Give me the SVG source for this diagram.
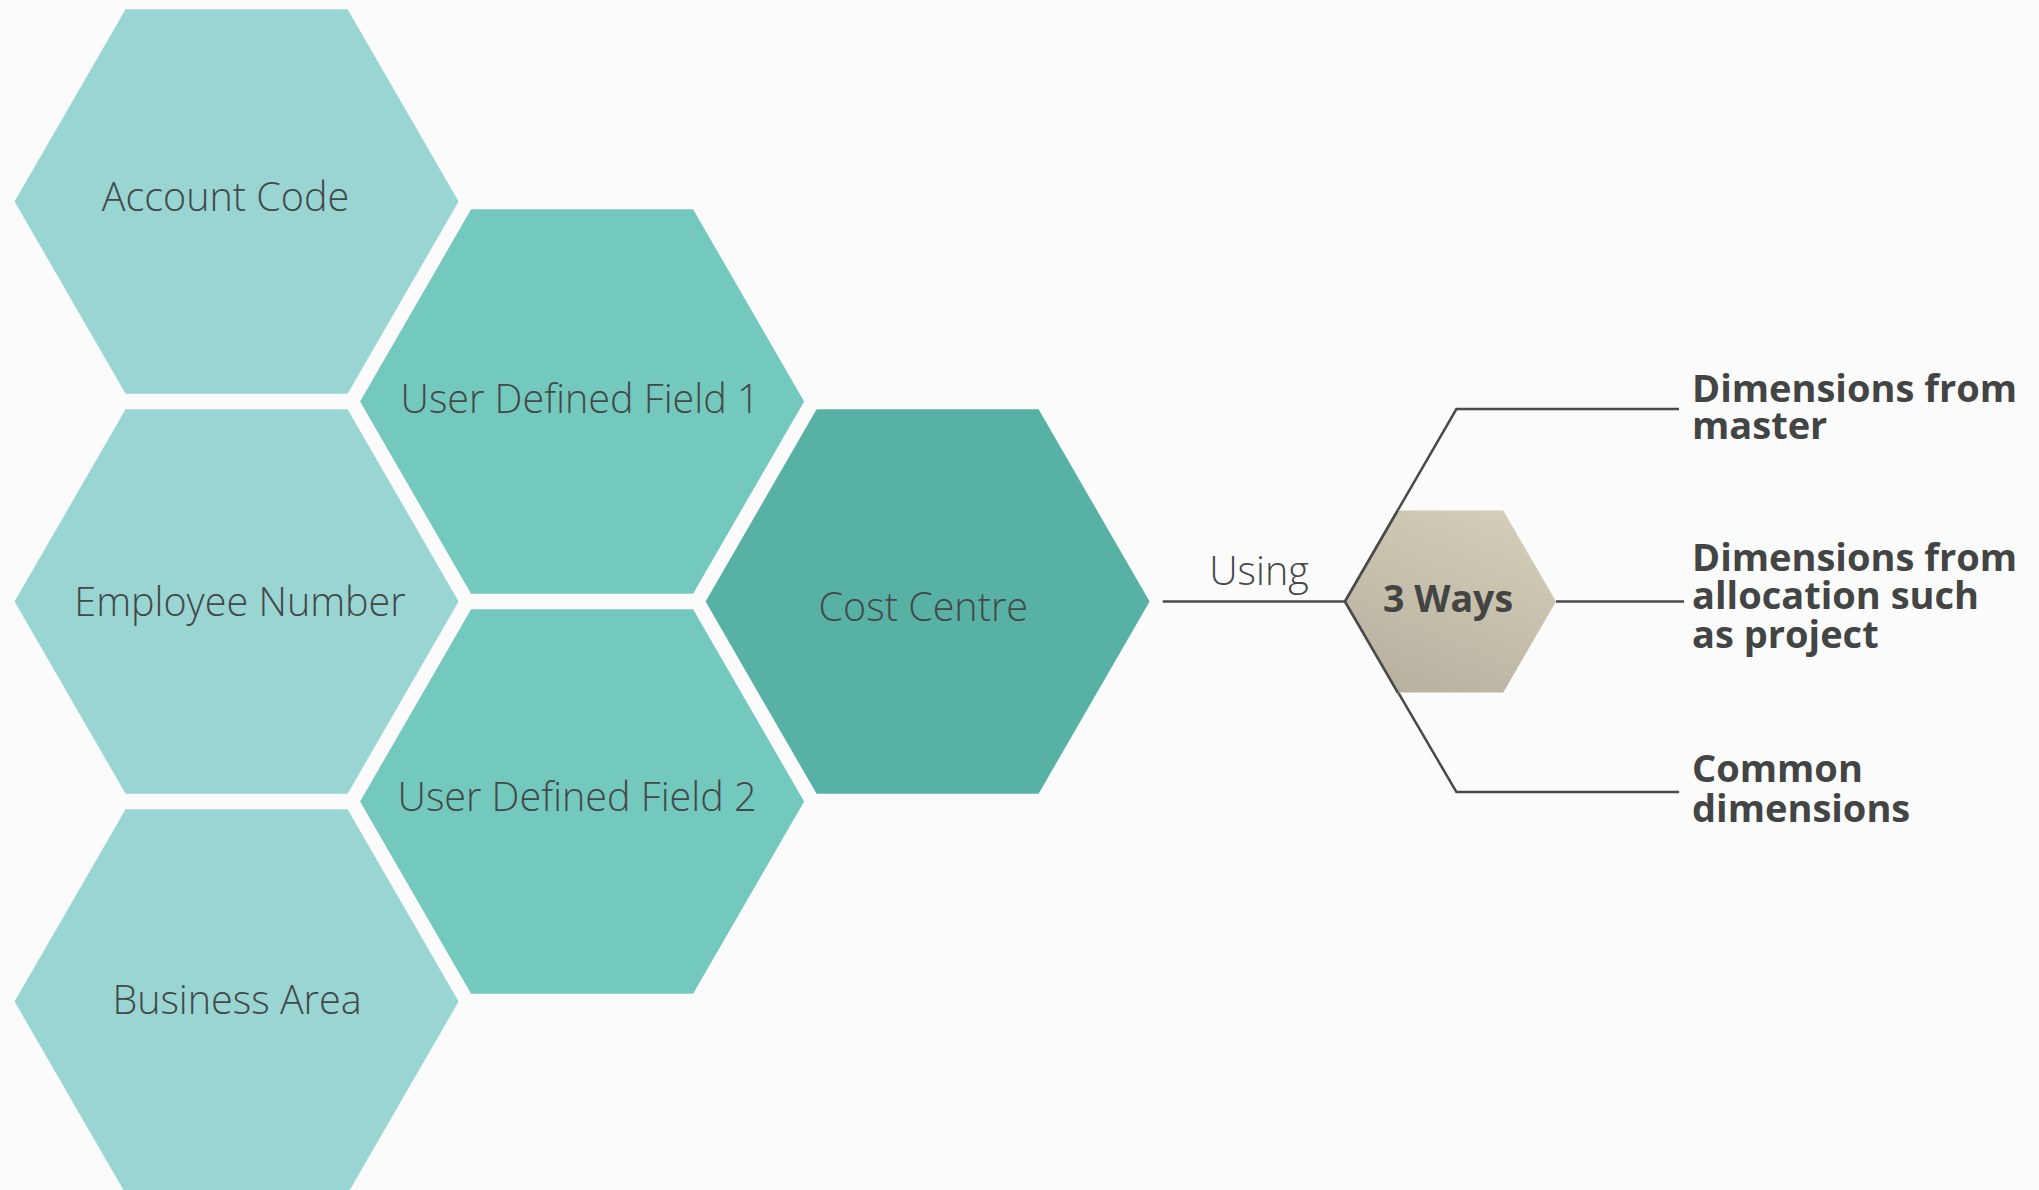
<svg xmlns="http://www.w3.org/2000/svg" width="2039" height="1190" viewBox="0 0 2039 1190">
  <defs>
    <linearGradient id="gWays" x1="0.75" y1="0" x2="0.25" y2="1">
      <stop offset="0" stop-color="#d4cdb7"/>
      <stop offset="1" stop-color="#b8b1a0"/>
    </linearGradient>
    <polygon id="hexBig" points="-222,0 -111,-192.25 111,-192.25 222,0 111,192.25 -111,192.25"/>
  </defs>
  <style>
    .c1 { fill: #98d5d3; }
    .c2 { fill: #74c9bf; }
    .c3 { fill: #57b2a5; }
    .lbl { font-family: "Open Sans", "Liberation Sans", sans-serif; font-weight: 300; font-size: 39.5px; fill: #454848; text-anchor: middle; }
    .side { font-family: "Open Sans", "Liberation Sans", sans-serif; font-weight: 700; font-size: 38px; fill: #434444; }
    .conn { fill: none; stroke: #4a4a4a; stroke-width: 2.5; }
  </style>
  <rect x="0" y="0" width="2039" height="1190" fill="#fbfbfb"/>

  <g id="account-code">
    <use href="#hexBig" class="c1" transform="translate(236.6,201.5)"/>
    <text class="lbl" x="225.5" y="210.7">Account Code</text>
  </g>
  <g id="employee-number">
    <use href="#hexBig" class="c1" transform="translate(236.6,601.5)"/>
    <text class="lbl" x="240" y="615.7">Employee Number</text>
  </g>
  <g id="business-area">
    <use href="#hexBig" class="c1" transform="translate(236.6,1001.5)"/>
    <text class="lbl" x="237" y="1014">Business Area</text>
  </g>
  <g id="user-defined-field-1">
    <use href="#hexBig" class="c2" transform="translate(582.1,401.5)"/>
    <text class="lbl" x="580" y="413.3">User Defined Field 1</text>
  </g>
  <g id="user-defined-field-2">
    <use href="#hexBig" class="c2" transform="translate(582.1,801.5)"/>
    <text class="lbl" x="577" y="811">User Defined Field 2</text>
  </g>
  <g id="cost-centre">
    <use href="#hexBig" class="c3" transform="translate(927.6,601.5)"/>
    <text class="lbl" x="923.3" y="620.7">Cost Centre</text>
  </g>

  <g id="connectors">
    <line class="conn" x1="1162.7" y1="601.5" x2="1345" y2="601.5"/>
    <text class="lbl" x="1259" y="585" font-size="38">Using</text>
    <polyline class="conn" points="1679,409 1456.4,409 1345,601.5 1456.4,792 1679,792"/>
    <line class="conn" x1="1556" y1="601.5" x2="1684" y2="601.5"/>
  </g>

  <g id="three-ways">
    <polygon points="1345,601.5 1397.75,510.5 1503.25,510.5 1556,601.5 1503.25,692.5 1397.75,692.5" fill="url(#gWays)"/>
    <line class="conn" x1="1345" y1="601.5" x2="1397.75" y2="510.5"/>
    <line class="conn" x1="1345" y1="601.5" x2="1397.75" y2="692.5"/>
    <text x="1448" y="611.5" font-family="'Open Sans', 'Liberation Sans', sans-serif" font-weight="700" font-size="37.5" fill="#434444" text-anchor="middle">3 Ways</text>
  </g>

  <g id="dimensions-from-master">
    <text class="side" x="1692" y="401.7">Dimensions from</text>
    <text class="side" x="1692" y="439.3">master</text>
  </g>
  <g id="dimensions-from-allocation">
    <text class="side" x="1692" y="570.7">Dimensions from</text>
    <text class="side" x="1692" y="609.3">allocation such</text>
    <text class="side" x="1692" y="647.7">as project</text>
  </g>
  <g id="common-dimensions">
    <text class="side" x="1692" y="782.3">Common</text>
    <text class="side" x="1692" y="821.7">dimensions</text>
  </g>
</svg>
